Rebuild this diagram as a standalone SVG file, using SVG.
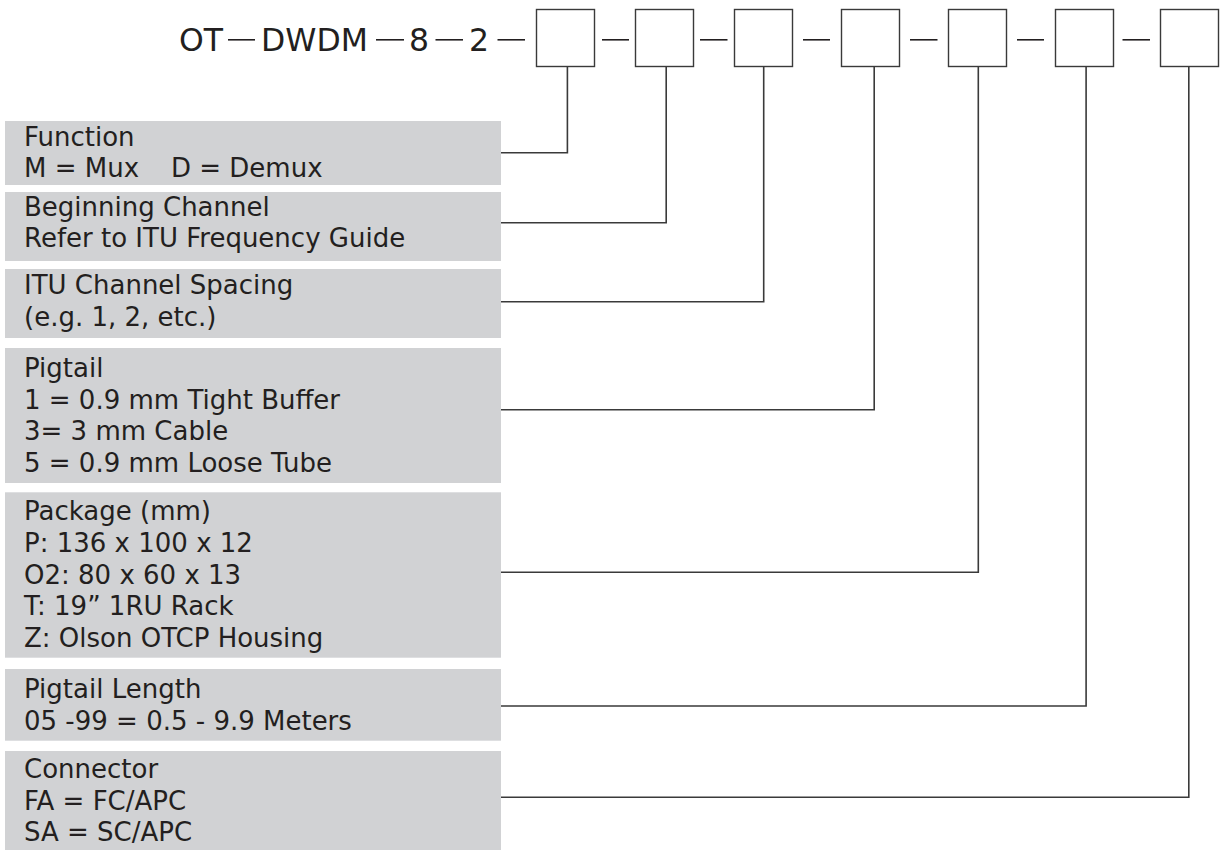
<svg xmlns="http://www.w3.org/2000/svg" width="1225" height="850" viewBox="0 0 1225 850">
<style>
.t{font-family:"DejaVu Sans","Liberation Sans",sans-serif;font-size:26px;fill:#231f20}
.h{font-family:"DejaVu Sans","Liberation Sans",sans-serif;font-size:31.5px;fill:#231f20}
.lbl{fill:#d1d2d4}
.box{fill:#fff;stroke:#3a3a3a;stroke-width:1.4}
.dash{stroke:#231f20;stroke-width:1.6}
.con{fill:none;stroke:#3a3a3a;stroke-width:1.6}
</style>
<rect width="1225" height="850" fill="#fff"/>
<g id="title">
<text class="h" x="179" y="50.5">OT</text>
<text class="h" x="261" y="50.5">DWDM</text>
<text class="h" x="409" y="50.5">8</text>
<text class="h" x="469" y="50.5">2</text>
<line class="dash" x1="228" y1="39.8" x2="255" y2="39.8"/>
<line class="dash" x1="376" y1="39.8" x2="404" y2="39.8"/>
<line class="dash" x1="435.5" y1="39.8" x2="463" y2="39.8"/>
<line class="dash" x1="497.5" y1="39.8" x2="525" y2="39.8"/>
<line class="dash" x1="602" y1="39.8" x2="629" y2="39.8"/>
<line class="dash" x1="700" y1="39.8" x2="727.5" y2="39.8"/>
<line class="dash" x1="803" y1="39.8" x2="830" y2="39.8"/>
<line class="dash" x1="910" y1="39.8" x2="937.5" y2="39.8"/>
<line class="dash" x1="1017" y1="39.8" x2="1044" y2="39.8"/>
<line class="dash" x1="1122.5" y1="39.8" x2="1150" y2="39.8"/>
</g>
<g id="slots">
<rect id="slot1" class="box" x="536.5" y="9.5" width="58" height="57"/>
<rect id="slot2" class="box" x="635.5" y="9.5" width="58" height="57"/>
<rect id="slot3" class="box" x="734.5" y="9.5" width="58" height="57"/>
<rect id="slot4" class="box" x="841.5" y="9.5" width="58" height="57"/>
<rect id="slot5" class="box" x="948.5" y="9.5" width="58" height="57"/>
<rect id="slot6" class="box" x="1055.5" y="9.5" width="58" height="57"/>
<rect id="slot7" class="box" x="1160.5" y="9.5" width="58" height="57"/>
</g>
<g id="connectors">
<polyline class="con" points="501,152.7 567.4,152.7 567.4,66.5"/>
<polyline class="con" points="501,222.7 666.2,222.7 666.2,66.5"/>
<polyline class="con" points="501,301.7 763.7,301.7 763.7,66.5"/>
<polyline class="con" points="501,409.7 874.2,409.7 874.2,66.5"/>
<polyline class="con" points="501,572.3 978.3,572.3 978.3,66.5"/>
<polyline class="con" points="501,706 1086.1,706 1086.1,66.5"/>
<polyline class="con" points="501,797.3 1188.8,797.3 1188.8,66.5"/>
</g>
<g id="function">
<rect class="lbl" x="5" y="121" width="496" height="64"/>
<text class="t" x="24" y="145.7">Function</text>
<text class="t" x="24" y="177.3">M = Mux<tspan x="171">D = Demux</tspan></text>
</g>
<g id="beginning-channel">
<rect class="lbl" x="5" y="192" width="496" height="69"/>
<text class="t" x="24" y="215.7">Beginning Channel</text>
<text class="t" x="24" y="247.3">Refer to ITU Frequency Guide</text>
</g>
<g id="channel-spacing">
<rect class="lbl" x="5" y="269" width="496" height="69"/>
<text class="t" x="24" y="294">ITU Channel Spacing</text>
<text class="t" x="24" y="325.7">(e.g. 1, 2, etc.)</text>
</g>
<g id="pigtail">
<rect class="lbl" x="5" y="348" width="496" height="135"/>
<text class="t" x="24" y="377">Pigtail</text>
<text class="t" x="24" y="408.7">1 = 0.9 mm Tight Buffer</text>
<text class="t" x="24" y="440.4">3= 3 mm Cable</text>
<text class="t" x="24" y="472.1">5 = 0.9 mm Loose Tube</text>
</g>
<g id="package">
<rect class="lbl" x="5" y="492.3" width="496" height="165.4"/>
<text class="t" x="24" y="520.2">Package (mm)</text>
<text class="t" x="24" y="551.9">P: 136 x 100 x 12</text>
<text class="t" x="24" y="583.6">O2: 80 x 60 x 13</text>
<text class="t" x="24" y="615.3">T: 19” 1RU Rack</text>
<text class="t" x="24" y="647">Z: Olson OTCP Housing</text>
</g>
<g id="pigtail-length">
<rect class="lbl" x="5" y="669" width="496" height="71.7"/>
<text class="t" x="24" y="698.2">Pigtail Length</text>
<text class="t" x="24" y="729.9">05 -99 = 0.5 - 9.9 Meters</text>
</g>
<g id="connector">
<rect class="lbl" x="5" y="751" width="496" height="99"/>
<text class="t" x="24" y="778">Connector</text>
<text class="t" x="24" y="809.7">FA = FC/APC</text>
<text class="t" x="24" y="841.4">SA = SC/APC</text>
</g>
</svg>
